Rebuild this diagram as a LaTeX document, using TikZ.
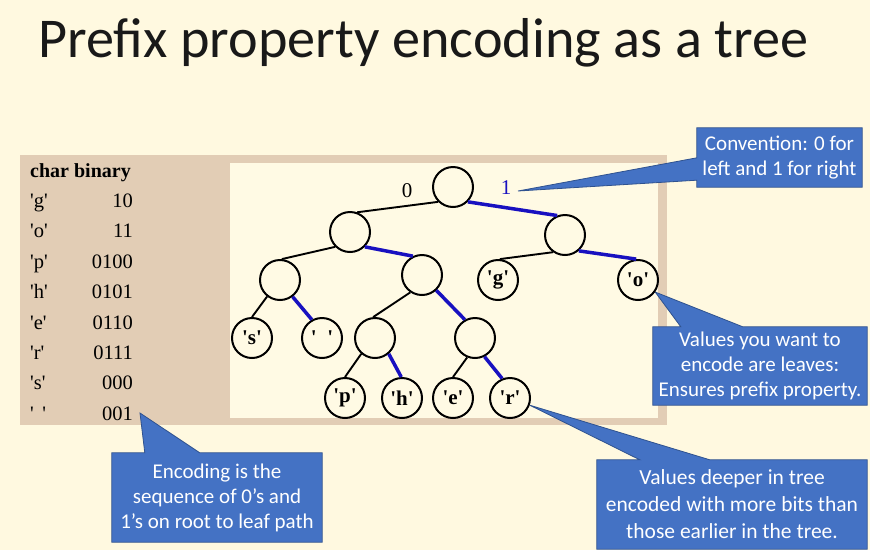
\documentclass[tikz,border=0pt]{standalone}
\usepackage{fontspec}
\setmainfont{Liberation Serif}
\newfontfamily\tms{Liberation Serif}[Ligatures=TeXOff]
\newfontfamily\calib{Carlito}
\usetikzlibrary{calc}
\definecolor{paper}{RGB}{255,249,224}
\definecolor{panel}{RGB}{255,250,228}
\definecolor{tan}{RGB}{226,205,181}
\definecolor{bitblue}{RGB}{24,16,192}
\definecolor{cbfill}{RGB}{68,114,196}
\definecolor{cbline}{RGB}{47,82,143}
\pgfdeclarelayer{bg}
\pgfdeclarelayer{callouts}
\pgfsetlayers{bg,callouts,main}
\begin{document}
\begin{tikzpicture}[x=1pt,y=-1pt,
  tnode/.style={circle,draw,line width=2pt,minimum size=40pt,inner sep=0pt,
    fill=panel,font=\tms\bfseries\fontsize{21}{21}\selectfont},
  zero/.style={line width=1.9pt},
  one/.style={line width=3.5pt,draw=bitblue},
  bitlabel/.style={font=\tms\fontsize{21}{21}\selectfont,inner sep=0pt},
  callout/.style={text=white,font=\calib\fontsize{21}{25}\selectfont,
    align=center,inner sep=0pt},
  calloutshape/.style={fill=cbfill,draw=cbline,line width=0.8pt,line join=miter},
  cell/.style={font=\tms\fontsize{20.5}{20.5}\selectfont,inner sep=0pt}
]
\useasboundingbox (0,0) rectangle (870,550);

% backdrop, code table panel and tree panel
\begin{pgfonlayer}{bg}
  \fill[paper] (0,0) rectangle (870,550);
  \fill[tan] (20,155) rectangle (667,425);
  \fill[panel] (230,163) rectangle (658,418);
\end{pgfonlayer}

% title
\node[anchor=base west,inner sep=0pt,text=black!90,
  font=\calib\fontsize{56.2}{57}\selectfont]
  (title) at (38,57) {Prefix property encoding as a tree};

% code table
\node[cell,anchor=base west,font=\tms\bfseries\fontsize{20}{20}\selectfont]
  (head) at (30,177) {char binary};
\foreach \ch/\bits/\yy [count=\i] in
  {g/10/207, o/11/237, p/0100/268, h/0101/298, e/0110/329,
   r/0111/359, s/000/389, {\ \,}/001/420} {
  \node[cell,anchor=base west] (ch\i) at (30,\yy) {'\ch'};
  \node[cell,anchor=base east] (bits\i) at (133,\yy) {\bits};
}

% coding tree
\node[tnode] (root) at (453,187) {};
\node[tnode] (n0)   at (350,232) {};
\node[tnode] (n1)   at (565,235) {};
\node[tnode] (n00)  at (280,280) {};
\node[tnode] (n01)  at (422,275) {};
\node[tnode] (g)    at (498,280) {'g'};
\node[tnode] (o)    at (638,280) {'o'};
\node[tnode] (s)    at (252,338) {'s'};
\node[tnode] (sp)   at (322,338) {'\ \ '};
\node[tnode] (n010) at (375,338) {};
\node[tnode] (n011) at (475,338) {};
\node[tnode] (p)    at (345,398) {'p'};
\node[tnode] (h)    at (402,398) {'h'};
\node[tnode] (e)    at (453,398) {'e'};
\node[tnode] (r)    at (510,398) {'r'};

% 0-branches
\draw[zero] (root.225) -- (n0.70);
\draw[zero] (n0.225)   -- (n00.85);
\draw[zero] (n1.235)   -- (g.85);
\draw[zero] (n00.232)  -- (s.90);
\draw[zero] (n01.236)  -- (n010.95);
\draw[zero] (n010.229) -- (p.90);
\draw[zero] (n011.248) -- (e.90);
% 1-branches
\draw[one] (root.-45)  -- (n1.112);
\draw[one] (n0.-45)    -- (n01.116);
\draw[one] (n1.-49)    -- (o.95);
\draw[one] (n00.-53)   -- (sp.119);
\draw[one] (n01.-47)   -- (n011.119);
\draw[one] (n010.-49)  -- (h.92);
\draw[one] (n011.-63)  -- (r.112);

\node[bitlabel] (lab0) at (407,191) {0};
\node[bitlabel,text=bitblue] (lab1) at (506,188) {1};

% callouts
\node[callout,minimum width=165pt,minimum height=59pt] (c1) at (779.5,157.5)
  {Convention: 0 for\\left and 1 for right};
\node[callout,minimum width=214pt,minimum height=78pt] (c2) at (760,366)
  {Values you want to\\encode are leaves:\\Ensures prefix property.};
\node[callout,minimum width=210pt,minimum height=89pt] (c3) at (217,497.5)
  {Encoding is the\\sequence of 0’s and\\1’s on root to leaf path};
\node[callout,minimum width=270pt,minimum height=89pt,
  font=\calib\fontsize{21.5}{27}\selectfont] (c4) at (732,504.5)
  {Values deeper in tree\\encoded with more bits than\\those earlier in the tree.};

\coordinate (tip1) at (518,191);
\coordinate (tip2) at (o.-35);
\coordinate (tip3) at (140,413);
\coordinate (tip4) at (r.-20);

\begin{pgfonlayer}{callouts}
  \draw[calloutshape] (c1.north west) -- (c1.north east) -- (c1.south east)
    -- (c1.south west) -- ([yshift=7pt]c1.south west) -- (tip1)
    -- ([yshift=-30pt]c1.north west) -- cycle;
  \draw[calloutshape] (c2.north west) -- ([xshift=28pt]c2.north west) -- (tip2)
    -- ([xshift=90pt]c2.north west) -- (c2.north east) -- (c2.south east)
    -- (c2.south west) -- cycle;
  \draw[calloutshape] (c3.north west) -- ([xshift=33pt]c3.north west) -- (tip3)
    -- ([xshift=88pt]c3.north west) -- (c3.north east) -- (c3.south east)
    -- (c3.south west) -- cycle;
  \draw[calloutshape] (c4.north west) -- ([xshift=43pt]c4.north west) -- (tip4)
    -- ([xshift=113pt]c4.north west) -- (c4.north east) -- (c4.south east)
    -- (c4.south west) -- cycle;
\end{pgfonlayer}
\end{tikzpicture}
\end{document}
